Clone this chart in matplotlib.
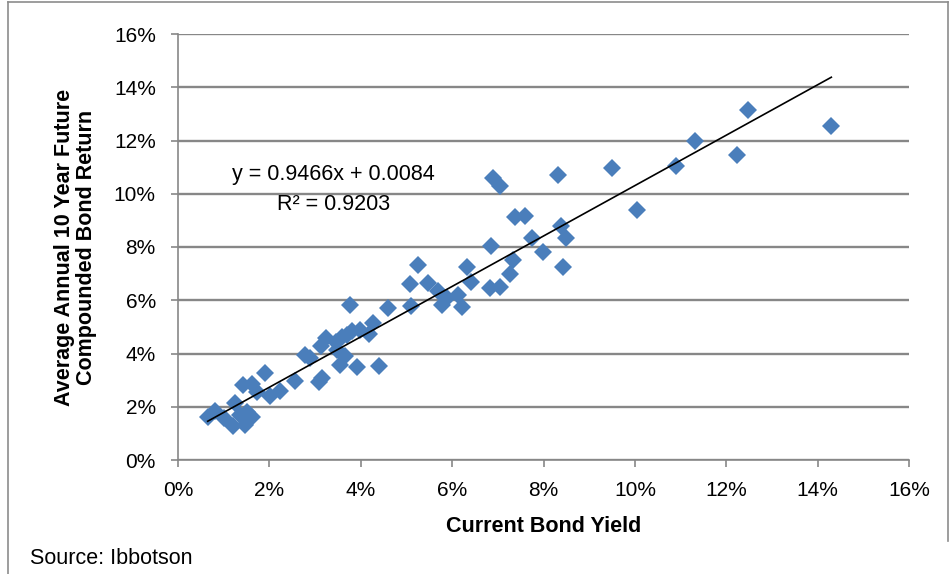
import matplotlib
matplotlib.use("Agg")
import matplotlib.pyplot as plt
from matplotlib.lines import Line2D
from matplotlib.ticker import FuncFormatter, MultipleLocator
import numpy as np

plt.rcParams['font.family'] = ['Liberation Sans', 'DejaVu Sans']

# current bond yield (%) and the following 10-year annualised return (%)
bond_yield = [0.65, 0.80, 1.00, 1.20, 1.47, 1.50, 1.36, 1.62, 1.25, 1.43,
              1.61, 1.72, 1.90, 2.01, 2.23, 2.57, 2.78, 2.89, 3.08, 3.15,
              3.14, 3.25, 3.47, 3.58, 3.69, 3.66, 3.55, 3.91, 3.76, 3.98,
              4.17, 4.27, 4.40, 4.60, 5.08, 5.10, 5.26, 5.48, 5.70, 5.77,
              5.88, 6.13, 6.21, 6.32, 6.42, 6.83, 7.05, 7.26, 7.34, 6.86,
              7.74, 7.99, 8.43, 8.39, 8.50, 7.37, 7.59, 6.90, 7.05, 8.32,
              9.49, 10.04, 10.91, 11.31, 12.23, 12.48, 14.30, 3.80, 3.45]
future_return = [1.62, 1.85, 1.57, 1.27, 1.33, 1.82, 1.69, 1.60, 2.15, 2.82,
                 2.85, 2.57, 3.26, 2.42, 2.60, 2.96, 3.95, 3.84, 2.94, 3.08,
                 4.28, 4.60, 4.14, 4.62, 4.70, 3.90, 3.57, 3.51, 5.83, 4.89,
                 4.74, 5.14, 3.53, 5.70, 6.60, 5.80, 7.33, 6.64, 6.33, 5.83,
                 6.08, 6.20, 5.75, 7.24, 6.70, 6.45, 6.50, 6.97, 7.52, 8.02,
                 8.33, 7.83, 7.24, 8.80, 8.33, 9.12, 9.15, 10.59, 10.30, 10.71,
                 10.97, 9.40, 11.06, 11.97, 11.47, 13.16, 12.53, 4.85, 4.45]

# linear trendline as reported on the chart
slope = 0.9466
intercept = 0.0084
r_squared = 0.9203

x = np.array(bond_yield) / 100
y = np.array(future_return) / 100

fig = plt.figure(figsize=(9.51, 5.74), dpi=100)
ax = fig.add_axes([178 / 951, 1 - 460 / 574, (909 - 178) / 951, (460 - 34) / 574])

grid_col = '#878787'
ax.set_xlim(0, 0.16)
ax.set_ylim(0, 0.16)
ax.xaxis.set_major_locator(MultipleLocator(0.02))
ax.yaxis.set_major_locator(MultipleLocator(0.02))
pct = FuncFormatter(lambda v, _: f'{v * 100:.0f}%')
ax.xaxis.set_major_formatter(pct)
ax.yaxis.set_major_formatter(pct)

ax.grid(axis='y', color=grid_col, linewidth=1.7, zorder=0)
ax.set_axisbelow(True)
for side in ('top', 'right'):
    ax.spines[side].set_visible(False)
for side in ('left', 'bottom'):
    ax.spines[side].set_color(grid_col)
    ax.spines[side].set_linewidth(1.2)

ax.tick_params(axis='both', direction='out', length=5, width=1.2,
               color=grid_col, labelsize=15, labelcolor='black')
ax.tick_params(axis='x', pad=10)
ax.tick_params(axis='y', pad=11)

ax.plot(x, y, linestyle='none', marker='D', markersize=9,
        color='#4A7EBB', markeredgewidth=0, zorder=3)

xt = np.array([x.min(), x.max()])
ax.plot(xt, slope * xt + intercept, color='black', linewidth=1.2, zorder=4)

ax.text(0.0341, 0.1071, f'y = {slope:.4f}x + {intercept:.4f}', fontsize=15.5,
        ha='center', va='center')
ax.text(0.0341, 0.0959, f'R² = {r_squared:.4f}', fontsize=15.5,
        ha='center', va='center')

ax.set_xlabel('Current Bond Yield', fontsize=15.5, fontweight='bold', labelpad=12)
ax.set_ylabel('Average Annual 10 Year Future\nCompounded Bond Return',
              fontsize=15.5, fontweight='bold', labelpad=12, linespacing=1.05)

fig.text(30 / 951, 1 - 558 / 574, 'Source: Ibbotson', fontsize=15.5,
         ha='left', va='center')

# outer chart frame
frame = dict(color='#8c8c8c', linewidth=1.2, transform=fig.transFigure)
fig.add_artist(Line2D([8 / 951, 8 / 951], [0, 1 - 2 / 574], **frame))
fig.add_artist(Line2D([8 / 951, 948 / 951], [1 - 2 / 574, 1 - 2 / 574], **frame))
fig.add_artist(Line2D([948 / 951, 948 / 951], [1 - 2 / 574, 1 - 541 / 574], **frame))

fig.savefig('out.png', dpi=100)
